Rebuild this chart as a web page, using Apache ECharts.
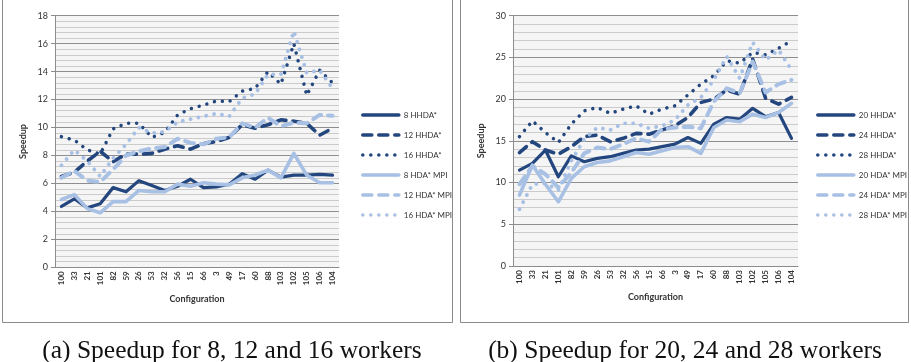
<!DOCTYPE html>
<html>
<head>
<meta charset="utf-8">
<script src="https://cdn.jsdelivr.net/npm/echarts@6/dist/echarts.min.js"></script>
<style>
html,body{margin:0;padding:0;background:#fff;}
#c{width:911px;height:362px;}
</style>
</head>
<body>
<div id="c"></div>
<script>
// ---- data ----
const categories = ['100','33','21','101','82','59','26','53','32','56','15','66','3','49','17','60','88','103','102','105','106','104'];

// panel (a)
const hhda8  = [4.35, 4.9, 4.25, 4.55, 5.7, 5.4, 6.2, 5.85, 5.5, 5.8, 6.3, 5.7, 5.75, 5.95, 6.7, 6.3, 6.95, 6.45, 6.6, 6.6, 6.65, 6.6];
const hhda12 = [6.5, 6.8, 7.6, 8.3, 7.55, 8.1, 8.1, 8.15, 8.45, 8.7, 8.45, 8.85, 9.0, 9.3, 10.2, 9.95, 10.2, 10.55, 10.45, 10.3, 9.45, 9.95];
const hhda16 = [9.35, 9.1, 8.4, 8.1, 9.9, 10.3, 10.3, 9.3, 9.65, 10.9, 11.35, 11.6, 11.9, 11.85, 12.6, 12.8, 14.0, 13.1, 16.0, 12.3, 14.1, 13.2];
const mpi8   = [4.85, 5.2, 4.2, 3.9, 4.7, 4.7, 5.5, 5.4, 5.4, 5.95, 5.8, 6.05, 5.95, 5.9, 6.4, 6.6, 6.95, 6.4, 8.15, 6.6, 6.05, 6.05];
const mpi12  = [6.4, 6.9, 6.2, 6.1, 7.0, 8.0, 8.3, 8.5, 8.6, 9.2, 8.9, 8.8, 9.2, 9.3, 10.3, 10.0, 10.7, 10.1, 10.35, 10.3, 10.9, 10.85];
const mpi16  = [7.3, 8.4, 7.6, 6.5, 7.8, 8.8, 10.0, 9.6, 9.7, 10.4, 10.6, 10.8, 11.0, 10.8, 12.1, 12.4, 13.8, 13.8, 16.9, 13.9, 14.1, 12.8];

// panel (b)
const hhda20 = [11.5, 12.3, 13.9, 10.7, 13.2, 12.5, 12.9, 13.1, 13.5, 13.9, 14.0, 14.3, 14.6, 15.4, 14.7, 17.0, 17.8, 17.6, 18.9, 17.9, 18.4, 15.3];
const hhda24 = [13.6, 14.9, 13.9, 13.4, 14.3, 15.5, 15.7, 14.9, 15.3, 15.9, 15.8, 16.3, 16.8, 17.8, 19.6, 20.0, 21.1, 20.6, 24.8, 20.1, 19.4, 20.2];
const hhda28 = [15.5, 17.4, 16.0, 14.8, 17.0, 18.6, 19.0, 18.3, 18.8, 19.2, 18.2, 18.8, 19.2, 20.5, 21.8, 22.8, 24.6, 24.3, 25.6, 25.3, 26.1, 27.0];
const mpi20  = [8.5, 12.1, 9.8, 7.7, 10.5, 11.9, 12.4, 12.6, 13.1, 13.6, 13.4, 13.8, 14.2, 14.3, 13.5, 16.6, 17.5, 17.3, 18.2, 17.8, 18.4, 19.5];
const mpi24  = [9.8, 12.0, 11.0, 9.4, 11.2, 13.5, 14.2, 14.0, 14.6, 15.3, 14.9, 16.4, 16.6, 16.7, 16.5, 19.7, 21.3, 20.7, 24.5, 20.8, 21.8, 22.3];
const mpi28  = [6.8, 9.8, 9.9, 9.1, 12.6, 15.2, 16.6, 16.3, 17.1, 17.1, 16.5, 16.8, 17.5, 19.3, 20.2, 22.3, 25.1, 22.5, 26.8, 24.7, 25.9, 23.5];

const seriesA = [['8 HHDA*', hhda8, 'solid', 'dark'], ['12 HHDA*', hhda12, 'dash', 'dark'], ['16 HHDA*', hhda16, 'dot', 'dark'],
                 ['8 HDA* MPI', mpi8, 'solid', 'light'], ['12 HDA* MPI', mpi12, 'dash', 'light'], ['16 HDA* MPI', mpi16, 'dot', 'light']];
const seriesB = [['20 HHDA*', hhda20, 'solid', 'dark'], ['24 HHDA*', hhda24, 'dash', 'dark'], ['28 HHDA*', hhda28, 'dot', 'dark'],
                 ['20 HDA* MPI', mpi20, 'solid', 'light'], ['24 HDA* MPI', mpi24, 'dash', 'light'], ['28 HDA* MPI', mpi28, 'dot', 'light']];

const yMaxA = 18, yStepA = 2, yMaxB = 30, yStepB = 5;

// ---- styling ----
const DARK = '#24467e', LIGHT = '#a7c0e3';
const FONT = 'Lato';
function lineStyle(kind, tone) {
  const c = tone === 'dark' ? DARK : LIGHT;
  const w = tone === 'dark' ? 3.2 : 3.6;
  if (kind === 'solid') return {color: c, width: w, type: 'solid', cap: 'round', join: 'round'};
  if (kind === 'dash') return {color: c, width: w + 0.4, type: [9, 7], cap: 'round', join: 'round'};
  return {color: c, width: w + 0.3, type: [0.01, 8], cap: 'round', join: 'round'};
}
function mkSeries(list, idx) {
  return list.map(([name, data, kind, tone]) => ({
    name, type: 'line', data, xAxisIndex: idx, yAxisIndex: idx,
    symbol: 'none', showSymbol: false, animation: false,
    lineStyle: lineStyle(kind, tone), itemStyle: {color: tone === 'dark' ? DARK : LIGHT},
    emphasis: {disabled: true}
  }));
}
function xAxis(idx) {
  return {
    type: 'category', data: categories, gridIndex: idx, boundaryGap: true,
    name: 'Configuration', nameLocation: 'middle', nameGap: 27,
    nameTextStyle: {fontFamily: FONT, fontSize: 9, fontWeight: 'bold', color: '#333'},
    axisLine: {lineStyle: {color: '#8c8c8c', width: 1}},
    axisTick: {show: false},
    axisLabel: {rotate: 90, interval: 0, fontFamily: FONT, fontSize: 8, fontWeight: 'bold', color: '#333', margin: 4},
    splitLine: {show: false}
  };
}
function yAxis(idx, max, step) {
  return {
    type: 'value', gridIndex: idx, min: 0, max, interval: step,
    name: 'Speedup', nameLocation: 'middle', nameGap: 27,
    nameTextStyle: {fontFamily: FONT, fontSize: 9, fontWeight: 'bold', color: '#333'},
    axisLine: {show: true, lineStyle: {color: '#8c8c8c'}},
    axisTick: {show: true, length: 4, lineStyle: {color: '#8c8c8c'}},
    axisLabel: {fontFamily: FONT, fontSize: 9, color: '#333', margin: 7},
    splitLine: {show: true, lineStyle: {color: '#8e8e8e', width: 1}},
    minorTick: {show: false, splitNumber: 5},
    minorSplitLine: {show: true, lineStyle: {color: '#cbcbcb', width: 1}}
  };
}
function legend(list, left) {
  return {
    data: list.map(s => s[0]), orient: 'vertical', left, top: 106,
    itemWidth: 36, itemHeight: 8, itemGap: 12, selectedMode: false,
    itemStyle: {opacity: 0},
    lineStyle: {width: 3.6, cap: 'round'},
    textStyle: {fontFamily: FONT, fontSize: 8, color: '#333'}
  };
}

const chart = echarts.init(document.getElementById('c'), null, {renderer: 'canvas'});
chart.setOption({
  animation: false,
  backgroundColor: '#fff',
  grid: [
    {left: 55, top: 15.7, width: 284, height: 251.6, show: true, backgroundColor: '#f5f5f5', borderWidth: 0},
    {left: 513, top: 15.7, width: 285, height: 250.3, show: true, backgroundColor: '#f5f5f5', borderWidth: 0}
  ],
  xAxis: [xAxis(0), xAxis(1)],
  yAxis: [yAxis(0, yMaxA, yStepA), yAxis(1, yMaxB, yStepB)],
  legend: [legend(seriesA, 356), legend(seriesB, 811)],
  title: [
    {text: '(a) Speedup for 8, 12 and 16 workers', left: 227, top: 333, textAlign: 'center',
     textStyle: {fontFamily: 'Liberation Serif', fontSize: 25.5, fontWeight: 'normal', color: '#111'}},
    {text: '(b) Speedup for 20, 24 and 28 workers', left: 680, top: 333, textAlign: 'center',
     textStyle: {fontFamily: 'Liberation Serif', fontSize: 25.5, fontWeight: 'normal', color: '#111'}}
  ],
  graphic: [
    {type: 'rect', shape: {x: 2.5, y: -2, width: 450, height: 324.5}, style: {fill: 'none', stroke: '#8a8a8a', lineWidth: 1}, silent: true},
    {type: 'rect', shape: {x: 460.5, y: -2, width: 448, height: 324.5}, style: {fill: 'none', stroke: '#8a8a8a', lineWidth: 1}, silent: true}
  ],
  series: mkSeries(seriesA, 0).concat(mkSeries(seriesB, 1))
});
</script>
</body>
</html>
